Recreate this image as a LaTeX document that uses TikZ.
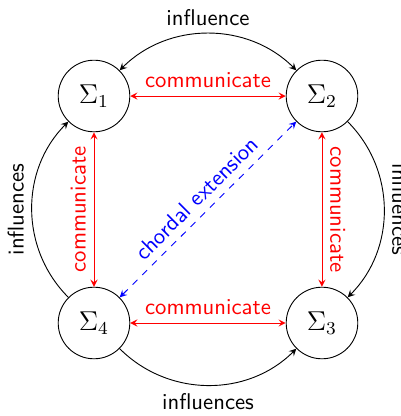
\documentclass[tikz,border=0pt]{standalone}
\usetikzlibrary{arrows}
\begin{document}
\begin{tikzpicture}[x=0.44pt,y=0.44pt,>=stealth,
  sys/.style={circle,draw,minimum size=31.5pt,inner sep=0pt,font=\large},
  comm/.style={<->,red},
  infl/.style={black},
  lab/.style={font=\sffamily}]
\useasboundingbox (0,0) rectangle (401,416);
\node[sys] (s1) at (94,320) {$\Sigma_1$};
\node[sys] (s2) at (322,320) {$\Sigma_2$};
\node[sys] (s4) at (94,93) {$\Sigma_4$};
\node[sys] (s3) at (322,93) {$\Sigma_3$};
% communicate
\draw[comm] (s1) -- node[lab,above] {communicate} (s2);
\draw[comm] (s4) -- node[lab,above] {communicate} (s3);
\draw[comm] (s4) -- node[lab,above,sloped] {communicate} (s1);
\draw[comm] (s2) -- node[lab,above,sloped] {communicate} (s3);
% chordal
\draw[<->,blue,dashed] (s4) -- node[lab,above,sloped] {chordal extension} (s2);
% influences
\draw[<->,infl] (s1) to[bend left=45] node[lab,above] {influence} (s2);
\draw[->,infl] (s4) to[bend left=45] node[lab,above,sloped] {influences} (s1);
\draw[->,infl] (s2) to[bend left=45] node[lab,above,sloped] {influences} (s3);
\draw[->,infl] (s4) to[bend right=45] node[lab,below] {influences} (s3);
\end{tikzpicture}
\end{document}
